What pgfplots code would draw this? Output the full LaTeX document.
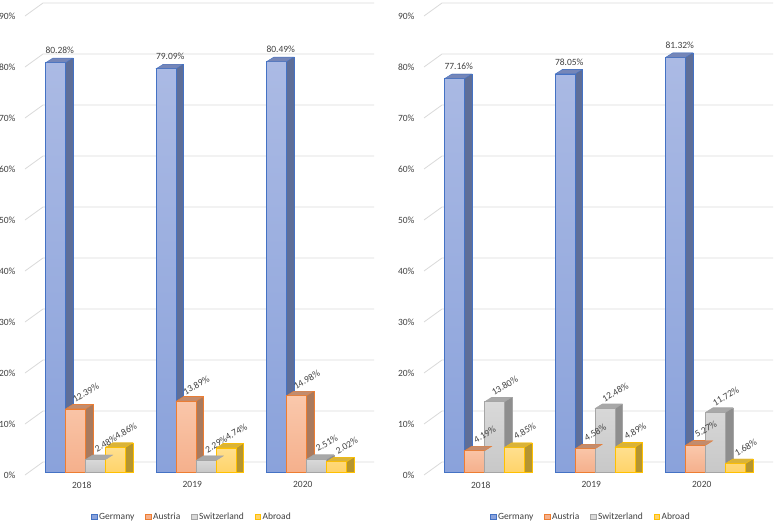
\documentclass[border=0pt]{standalone}
\usepackage{fontspec}
\setmainfont{Carlito}
\usepackage{pgfplots}
\usepackage{pgfplotstable}
\pgfplotsset{compat=1.18}

\definecolor{gerFa}{HTML}{ABBAE4}\definecolor{gerFb}{HTML}{8AA2DB}\definecolor{gerS}{HTML}{5E6E98}\definecolor{gerT}{HTML}{7586B8}\definecolor{gerB}{HTML}{4472C4}
\definecolor{autFa}{HTML}{FAC8AC}\definecolor{autFb}{HTML}{F5B08C}\definecolor{autS}{HTML}{A97A5E}\definecolor{autT}{HTML}{C28C6E}\definecolor{autB}{HTML}{ED7D31}
\definecolor{suiFa}{HTML}{D9D9D9}\definecolor{suiFb}{HTML}{C8C8C8}\definecolor{suiS}{HTML}{8E8E8E}\definecolor{suiT}{HTML}{A8A8A8}\definecolor{suiB}{HTML}{A5A5A5}
\definecolor{abrFa}{HTML}{FFE08F}\definecolor{abrFb}{HTML}{FFD36A}\definecolor{abrS}{HTML}{B5952F}\definecolor{abrT}{HTML}{D9B33A}\definecolor{abrB}{HTML}{FFC000}
\definecolor{gridc}{HTML}{D9D9D9}
\definecolor{txtc}{HTML}{404040}

\pgfdeclareplotmark{topface}{%
 \pgfpathmoveto{\pgfqpoint{-10pt}{0pt}}%
 \pgfpathlineto{\pgfqpoint{10pt}{0pt}}%
 \pgfpathlineto{\pgfqpoint{17pt}{4.4pt}}%
 \pgfpathlineto{\pgfqpoint{-3pt}{4.4pt}}%
 \pgfpathclose
 \pgfusepathqfillstroke}

\pgfplotstableread{
x ger aut sui abr
0 80.28 12.39 2.48 4.86
1 79.09 13.89 2.29 4.74
2 80.49 14.98 2.51 2.02
}\dataA
\pgfplotstableread{
x ger aut sui abr
0 77.16 4.19 13.80 4.85
1 78.05 4.58 12.48 4.89
2 81.32 5.27 11.72 1.68
}\dataB

\newcommand\lblfont{\fontsize{9.5}{11}\selectfont}

% #1 table, #2 column, #3 front shift, #4 depth shift, #5 colour prefix
\newcommand\series[5]{%
 \addplot[ybar, bar width=20pt, bar shift=#4pt, fill=#5S, draw=#5B, line width=0.4pt, forget plot]
   table[x=x, y expr=\thisrow{#2}+0.88] {#1};
 \addplot[only marks, mark=topface, mark options={xshift=#3pt, fill=#5T, draw=#5B, line width=0.4pt}, forget plot]
   table[x=x, y=#2] {#1};
 \addplot[ybar, bar width=20pt, bar shift=#3pt, top color=#5Fa, bottom color=#5Fb, draw=#5B, line width=0.6pt, forget plot]
   table[x=x, y=#2] {#1};
}
% #1 table, #2 column, #3 node style
\newcommand\labels[3]{%
 \addplot[only marks, mark=none, forget plot,
   nodes near coords={\pgfmathprintnumber[fixed,fixed zerofill,precision=2]{\pgfplotspointmeta}\%},
   every node near coord/.style={font=\lblfont, text=txtc, #3}]
   table[x=x, y=#2] {#1};
}

\pgfplotsset{
 panel/.style={
  scale only axis, width=331.5pt, height=459pt,
  xmin=-0.55, xmax=2.45, ymin=0, ymax=90, clip=false,
  axis line style={draw=none}, major tick length=0pt,
  xtick={0,1,2}, xticklabels={2018,2019,2020},
  ytick={0,10,...,90}, yticklabel={\pgfmathprintnumber{\tick}\%},
  /pgf/number format/assume math mode=true,
  tick label style={font=\lblfont, text=txtc},
  xticklabel style={yshift=-6pt, xshift=-4pt},
  yticklabel style={xshift=-6pt, yshift=-3pt},
  legend columns=4,
  legend style={at={(0.504,-0.098)}, anchor=center, draw=none, fill=none, font=\lblfont, text=txtc,
     /tikz/every even column/.append style={column sep=9pt}},
  legend image code/.code={\draw[##1, line width=0.5pt] (0pt,-2.6pt) rectangle (5.2pt,2.6pt);},
 }
}

\newcommand\grid{%
 \pgfplotsinvokeforeach{0,10,...,90}{\draw[gridc, line width=0.8pt] (axis cs:-0.55,##1) ++(0pt,-3pt) -- ++(18pt,13pt) -- ++(331pt,0pt);}%
}

\newcommand\legendimgs{%
 \addlegendimage{fill=gerFb, draw=gerB}\addlegendentry{Germany}
 \addlegendimage{fill=autFb, draw=autB}\addlegendentry{Austria}
 \addlegendimage{fill=suiFa, draw=suiB}\addlegendentry{Switzerland}
 \addlegendimage{fill=abrFb, draw=abrB}\addlegendentry{Abroad}
}

\newcommand\allseries[1]{%
 \series{#1}{ger}{-30}{-23}{ger}
 \series{#1}{aut}{-10}{-3}{aut}
 \series{#1}{sui}{10}{17}{sui}
 \series{#1}{abr}{30}{37}{abr}
 \labels{#1}{ger}{anchor=center, xshift=-26pt, yshift=12pt}
 \labels{#1}{aut}{anchor=center, xshift=0pt, yshift=16pt, rotate=30}
 \labels{#1}{sui}{anchor=center, xshift=20pt, yshift=16pt, rotate=30}
 \labels{#1}{abr}{anchor=center, xshift=40pt, yshift=16pt, rotate=30}
}

\begin{document}
\begin{tikzpicture}[x=1pt,y=1pt]
\path[use as bounding box] (0,0) rectangle (777,523);
\begin{axis}[panel, at={(25pt,51pt)}, anchor=south west]
 \grid
 \legendimgs
 \allseries{\dataA}
\end{axis}
\begin{axis}[panel, at={(424pt,51pt)}, anchor=south west]
 \grid
 \legendimgs
 \allseries{\dataB}
\end{axis}
\end{tikzpicture}
\end{document}
